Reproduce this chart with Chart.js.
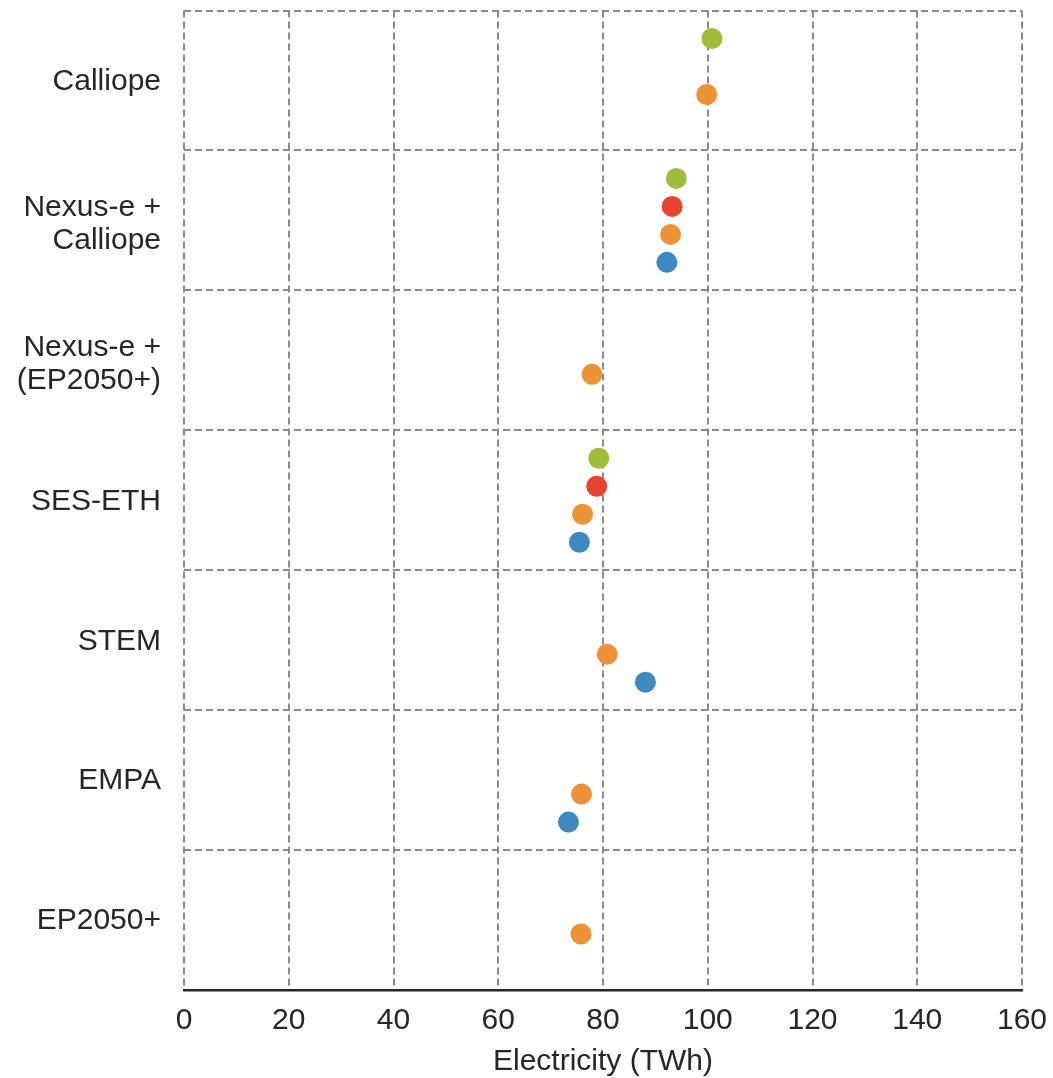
<!DOCTYPE html>
<html>
<head>
<meta charset="utf-8">
<script src="https://cdn.jsdelivr.net/npm/chart.js@4"></script>
<style>
  html, body { margin: 0; padding: 0; background: #fff; }
  #wrap { width: 1053px; height: 1078px; position: relative; }
</style>
</head>
<body>
<div id="wrap"><canvas id="graphic"></canvas></div>
<script>
// categories, top to bottom
const models = [
  ["Calliope"],
  ["Nexus-e +", "Calliope"],
  ["Nexus-e +", "(EP2050+)"],
  ["SES-ETH"],
  ["STEM"],
  ["EMPA"],
  ["EP2050+"]
];

// electricity (TWh), one value per model, null = no point
const greenVals  = [100.8, 94.0, null, 79.2, null, null, null];
const redVals    = [null, 93.2, null, 78.8, null, null, null];
const orangeVals = [99.8, 92.9, 77.9, 76.1, 80.8, 75.9, 75.8];
const blueVals   = [null, 92.2, null, 75.5, 88.1, 73.4, null];

const xTicks = [0, 20, 40, 60, 80, 100, 120, 140, 160];

const band = 5; // y units per model row
const font = "'Liberation Sans', Arial, Helvetica, sans-serif";
const textColor = "#262626";
const gridColor = "#8a8a8a";

// each series sits on its own line inside a model's row
const toPoints = (vals, slot) =>
  vals
    .map((v, i) => (v == null ? null : { x: v, y: i * band + slot }))
    .filter((p) => p !== null);

const series = [
  { data: greenVals, slot: 1, color: "#9fbc3b" },
  { data: redVals, slot: 2, color: "#e8432f" },
  { data: orangeVals, slot: 3, color: "#ee9237" },
  { data: blueVals, slot: 4, color: "#3e89bf" }
];

const noEdgePadding = (scale) => {
  scale.paddingTop = 0;
  scale.paddingBottom = 0;
  scale.paddingLeft = 0;
  scale.paddingRight = 0;
};

const ctx = document.getElementById("graphic");

new Chart(ctx, {
  type: "scatter",
  data: {
    datasets: series.map((s) => ({
      data: toPoints(s.data, s.slot),
      backgroundColor: s.color,
      borderColor: s.color,
      borderWidth: 0,
      pointRadius: 10.5,
      pointHoverRadius: 10.5
    }))
  },
  options: {
    responsive: true,
    maintainAspectRatio: false,
    animation: false,
    layout: { padding: { top: 10, right: 31, bottom: 0, left: 0 } },
    plugins: {
      legend: { display: false },
      tooltip: { enabled: false }
    },
    scales: {
      x: {
        type: "linear",
        min: 0,
        max: 160,
        afterBuildTicks: (scale) => {
          scale.ticks = xTicks.map((v) => ({ value: v }));
        },
        afterFit: (scale) => {
          scale.height = 88;
          noEdgePadding(scale);
        },
        grid: {
          color: gridColor,
          lineWidth: 2,
          drawTicks: false
        },
        border: {
          display: true,
          color: textColor,
          width: 2.5,
          dash: [7, 4]
        },
        ticks: {
          padding: 13,
          autoSkip: false,
          maxRotation: 0,
          color: textColor,
          font: { family: font, size: 30, lineHeight: 1.2 }
        },
        title: {
          display: true,
          text: "Electricity (TWh)",
          color: textColor,
          font: { family: font, size: 30, lineHeight: 1.07 },
          padding: { top: 0, bottom: 0 }
        }
      },
      y: {
        type: "linear",
        min: 0,
        max: models.length * band,
        reverse: true,
        afterBuildTicks: (scale) => {
          const t = [];
          for (let v = 0; v <= models.length * band; v += band) t.push({ value: v });
          // label ticks, nudged a little lower like the original layout
          models.forEach((m, i) => {
            const shift = m.length > 1 ? 0.14 : 0.04;
            t.push({ value: i * band + band / 2 + shift });
          });
          t.sort((a, b) => a.value - b.value);
          scale.ticks = t;
        },
        afterFit: (scale) => {
          scale.width = 184;
          noEdgePadding(scale);
        },
        grid: {
          lineWidth: 2,
          drawTicks: false,
          color: (c) => {
            const v = c.tick ? c.tick.value : 0;
            if (v % band !== 0 || v >= models.length * band) return "rgba(0,0,0,0)";
            return gridColor;
          }
        },
        border: { display: false, dash: [7, 4] },
        ticks: {
          padding: 23,
          autoSkip: false,
          color: textColor,
          font: { family: font, size: 30, lineHeight: 1.12 },
          callback: (value) => {
            if (value % band === 0) return "";
            return models[Math.floor(value / band)];
          }
        }
      }
    }
  }
});
</script>
</body>
</html>
